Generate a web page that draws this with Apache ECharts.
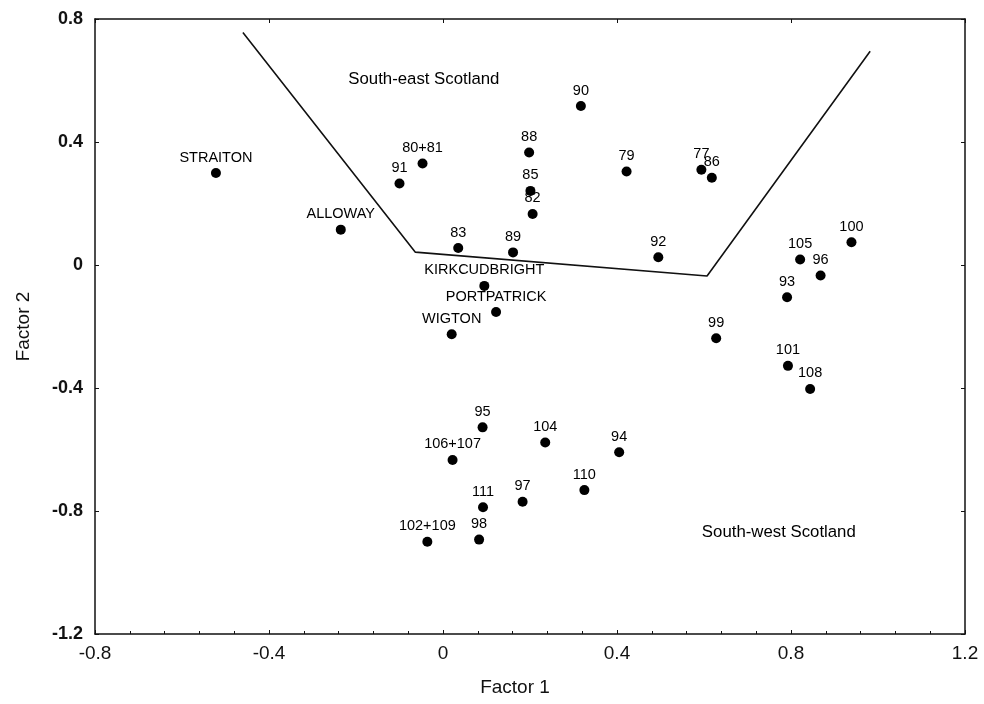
<!DOCTYPE html>
<html>
<head>
<meta charset="utf-8">
<script src="https://cdn.jsdelivr.net/npm/echarts@6/dist/echarts.min.js"></script>
<style>
html,body{margin:0;padding:0;background:#fff;}
#chart{width:984px;height:704px;}
</style>
</head>
<body>
<div id="chart"></div>
<script>
// Point labels and coordinates (Factor 1, Factor 2)
const pointNames = ["STRAITON","ALLOWAY","91","80+81","83","89","88","85","82","90","79","77","86","92","105","100","96","93","99","101","108","KIRKCUDBRIGHT","PORTPATRICK","WIGTON","95","104","94","106+107","110","97","111","102+109","98"];
const factor1 = [-0.522,-0.235,-0.100,-0.047,0.035,0.161,0.198,0.201,0.206,0.317,0.422,0.594,0.618,0.495,0.821,0.939,0.868,0.791,0.628,0.793,0.844,0.095,0.122,0.020,0.091,0.235,0.405,0.022,0.325,0.183,0.092,-0.036,0.083];
const factor2 = [0.299,0.115,0.265,0.330,0.055,0.041,0.366,0.241,0.166,0.517,0.304,0.310,0.284,0.025,0.018,0.074,-0.034,-0.105,-0.238,-0.328,-0.403,-0.068,-0.153,-0.225,-0.528,-0.577,-0.609,-0.634,-0.732,-0.770,-0.788,-0.900,-0.893];

// Boundary polyline separating regions
const boundaryX = [-0.460,-0.064,0.607,0.982];
const boundaryY = [0.756,0.042,-0.036,0.695];

// Region annotations
const regionNames = ["South-east Scotland","South-west Scotland"];
const regionX = [-0.044,0.772];
const regionY = [0.604,-0.870];

// Axis ticks
const xTicks = [-0.8,-0.4,0,0.4,0.8,1.2];
const yTicks = [-1.2,-0.8,-0.4,0,0.4,0.8];

const FONT = "'Liberation Sans', Arial, sans-serif";
const INK = '#000';

const pointData = pointNames.map((n,i)=>({name:n,value:[factor1[i],factor2[i]]}));
const boundaryData = boundaryX.map((x,i)=>[x,boundaryY[i]]);
const regionData = regionNames.map((n,i)=>({name:n,value:[regionX[i],regionY[i]]}));

const fmt = v => { const r = Math.round(v*10)/10; return r===0 ? '0' : String(r); };

const chart = echarts.init(document.getElementById('chart'), null, {renderer:'canvas'});
chart.setOption({
  backgroundColor:'#fff',
  animation:false,
  grid:{left:95,right:19,top:19,bottom:70,show:false},
  xAxis:[{
    type:'value', min:xTicks[0], max:xTicks[xTicks.length-1], interval:0.4,
    name:'Factor 1', nameLocation:'middle', nameGap:44,
    nameTextStyle:{fontFamily:FONT,fontSize:19,color:'#111',padding:[0,30,0,0]},
    axisLine:{onZero:false,lineStyle:{color:'#111',width:1.5}},
    axisTick:{inside:true,length:4,lineStyle:{color:'#111',width:1}},
    minorTick:{show:true,splitNumber:5,length:3,lineStyle:{color:'#111',width:1}},
    axisLabel:{fontFamily:FONT,fontSize:19,color:'#111',margin:10,formatter:fmt},
    splitLine:{show:false}
  },{
    type:'value', position:'top', min:xTicks[0], max:xTicks[xTicks.length-1], interval:0.4,
    axisLine:{onZero:false,lineStyle:{color:'#111',width:1.5}},
    axisTick:{inside:true,length:4,lineStyle:{color:'#111'}},
    axisLabel:{show:false}, splitLine:{show:false}
  }],
  yAxis:[{
    type:'value', min:yTicks[0], max:yTicks[yTicks.length-1], interval:0.4,
    name:'Factor 2', nameLocation:'middle', nameGap:62,
    nameTextStyle:{fontFamily:FONT,fontSize:19,color:'#111'},
    axisLine:{onZero:false,lineStyle:{color:'#111',width:1.5}},
    axisTick:{inside:true,length:4,lineStyle:{color:'#111',width:1}},
    axisLabel:{fontFamily:FONT,fontSize:18,fontWeight:'bold',color:'#111',margin:12,formatter:fmt},
    splitLine:{show:false}
  },{
    type:'value', position:'right', min:yTicks[0], max:yTicks[yTicks.length-1], interval:0.4,
    axisLine:{onZero:false,lineStyle:{color:'#111',width:1.5}},
    axisTick:{inside:true,length:4,lineStyle:{color:'#111'}},
    axisLabel:{show:false}, splitLine:{show:false}
  }],
  series:[{
    type:'line', xAxisIndex:0, yAxisIndex:0, data:boundaryData,
    showSymbol:false, symbol:'none', silent:true,
    lineStyle:{color:'#111',width:1.6}
  },{
    type:'scatter', xAxisIndex:0, yAxisIndex:0, data:pointData,
    symbol:'circle', symbolSize:10,
    itemStyle:{color:INK,opacity:1},
    label:{show:true,position:'top',distance:3,formatter:'{b}',
      fontFamily:FONT,fontSize:14.5,color:INK,opacity:1}
  },{
    type:'scatter', xAxisIndex:0, yAxisIndex:0, data:regionData,
    symbolSize:0, silent:true,
    itemStyle:{opacity:1},
    label:{show:true,position:'inside',formatter:'{b}',
      fontFamily:FONT,fontSize:16.8,color:INK,opacity:1}
  }]
});
</script>
</body>
</html>
